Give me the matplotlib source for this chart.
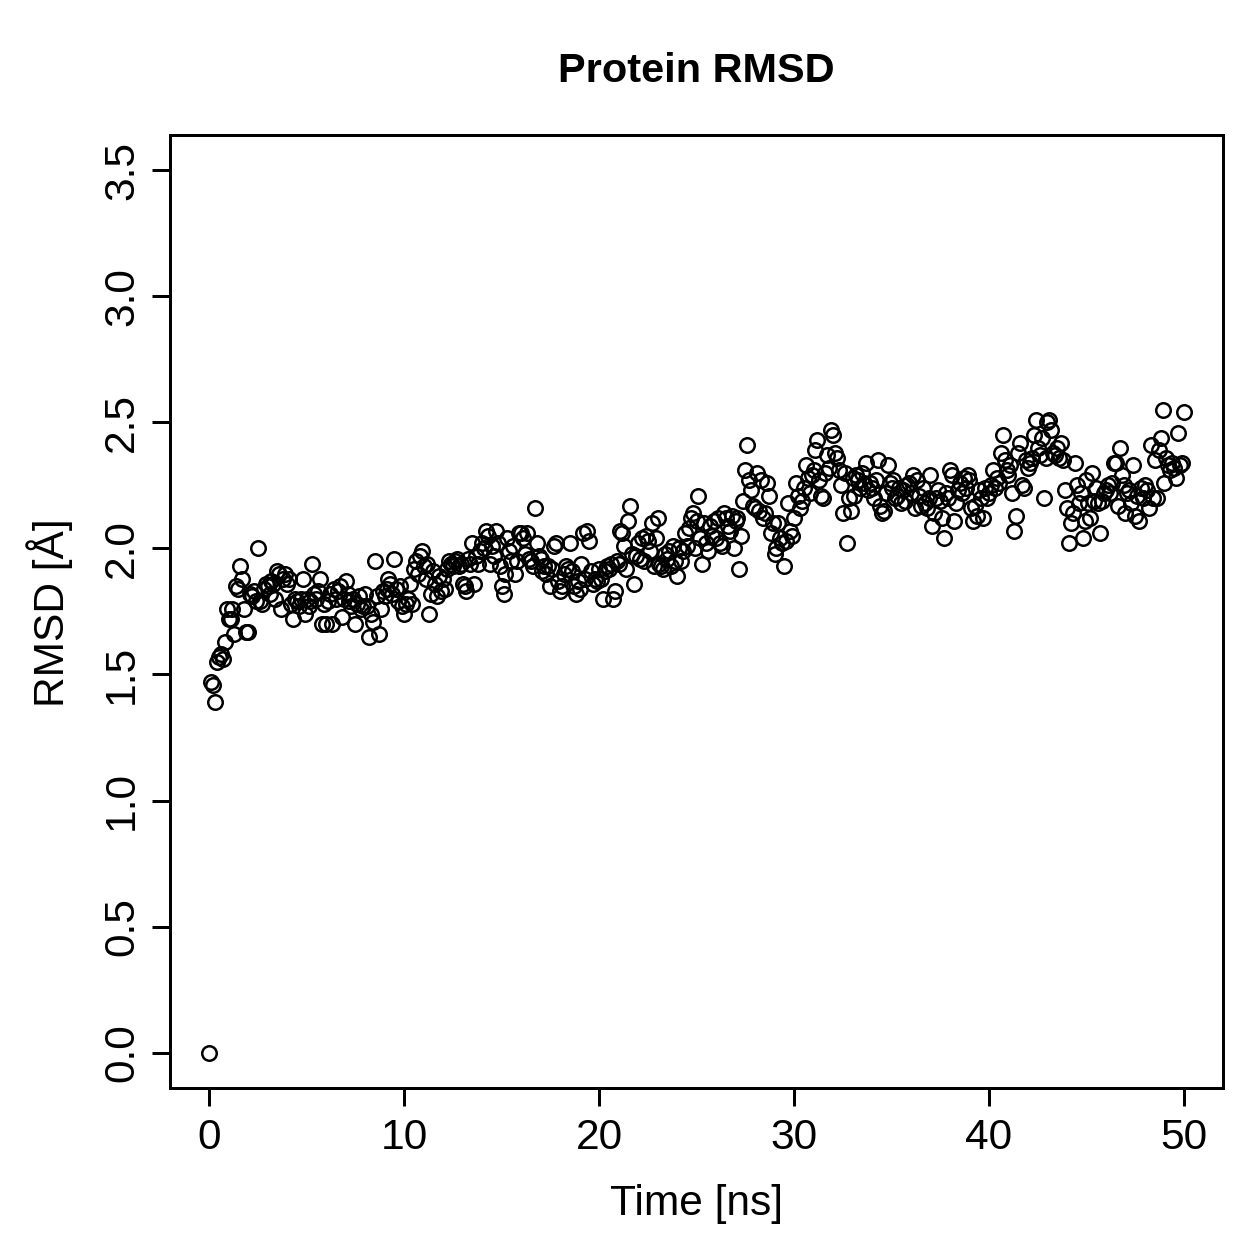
import numpy as np
import matplotlib
matplotlib.use("Agg")
import matplotlib.pyplot as plt

plt.rcParams['font.family'] = ['Liberation Sans', 'DejaVu Sans']

# time in ns, one frame every 0.1 ns
time_ns = np.round(np.arange(0, 501) * 0.1, 1)

# RMSD values, one row per ns
rmsd = [
    0.00, 1.47, 1.46, 1.39, 1.55, 1.57, 1.58, 1.56, 1.63, 1.76,
    1.72, 1.72, 1.76, 1.66, 1.85, 1.84, 1.93, 1.88, 1.76, 1.67,
    1.67, 1.82, 1.81, 1.83, 1.79, 2.00, 1.79, 1.78, 1.84, 1.86,
    1.85, 1.82, 1.87, 1.86, 1.80, 1.91, 1.90, 1.76, 1.88, 1.90,
    1.86, 1.88, 1.78, 1.72, 1.80, 1.79, 1.77, 1.80, 1.88, 1.74,
    1.80, 1.77, 1.79, 1.94, 1.82, 1.80, 1.83, 1.88, 1.70, 1.78,
    1.70, 1.79, 1.82, 1.70, 1.84, 1.80, 1.83, 1.85, 1.73, 1.80,
    1.87, 1.82, 1.79, 1.77, 1.80, 1.70, 1.78, 1.81, 1.76, 1.77,
    1.82, 1.77, 1.65, 1.74, 1.71, 1.95, 1.81, 1.66, 1.76, 1.83,
    1.81, 1.84, 1.88, 1.86, 1.82, 1.96, 1.84, 1.79, 1.85, 1.77,
    1.74, 1.78, 1.80, 1.86, 1.78, 1.92, 1.95, 1.90, 1.97, 1.99,
    1.93, 1.88, 1.94, 1.74, 1.82, 1.91, 1.86, 1.81, 1.89, 1.83,
    1.88, 1.84, 1.92, 1.95, 1.94, 1.93, 1.95, 1.96, 1.93, 1.94,
    1.86, 1.85, 1.83, 1.96, 1.94, 2.02, 1.86, 1.97, 1.94, 1.99,
    2.02, 2.00, 2.07, 2.05, 1.94, 2.01, 1.97, 2.07, 2.02, 1.93,
    1.85, 1.82, 1.90, 2.04, 1.99, 1.95, 2.01, 1.90, 1.95, 2.06,
    2.06, 2.04, 1.98, 2.06, 1.96, 1.95, 1.93, 2.16, 2.02, 1.97,
    1.96, 1.91, 1.93, 1.90, 1.93, 1.85, 1.92, 2.01, 2.02, 1.87,
    1.83, 1.85, 1.90, 1.93, 1.92, 2.02, 1.91, 1.85, 1.82, 1.87,
    1.84, 1.94, 2.06, 1.88, 2.07, 2.03, 1.91, 1.86, 1.88, 1.87,
    1.92, 1.88, 1.80, 1.91, 1.93, 1.92, 1.94, 1.80, 1.83, 1.95,
    1.94, 2.07, 2.06, 2.01, 1.92, 2.11, 2.17, 1.98, 1.86, 1.97,
    2.02, 1.96, 2.04, 1.95, 2.05, 2.03, 1.99, 2.10, 1.93, 2.04,
    2.12, 1.94, 1.93, 1.92, 1.98, 1.96, 1.99, 1.93, 2.01, 1.95,
    1.89, 2.00, 1.95, 1.99, 2.06, 2.01, 2.08, 2.12, 2.14, 2.00,
    2.11, 2.21, 2.04, 1.94, 2.10, 2.02, 1.99, 2.09, 2.05, 2.11,
    2.04, 2.12, 2.02, 2.01, 2.14, 2.12, 2.09, 2.07, 2.13, 2.00,
    2.11, 2.12, 1.92, 2.05, 2.19, 2.31, 2.41, 2.27, 2.23, 2.17,
    2.16, 2.30, 2.15, 2.27, 2.12, 2.14, 2.26, 2.21, 2.06, 2.10,
    1.98, 2.00, 2.10, 2.04, 2.02, 1.93, 2.03, 2.18, 2.07, 2.05,
    2.12, 2.26, 2.21, 2.16, 2.19, 2.24, 2.33, 2.28, 2.22, 2.29,
    2.31, 2.39, 2.43, 2.27, 2.21, 2.20, 2.30, 2.37, 2.32, 2.47,
    2.45, 2.38, 2.36, 2.31, 2.25, 2.14, 2.30, 2.02, 2.20, 2.15,
    2.28, 2.21, 2.29, 2.27, 2.24, 2.30, 2.26, 2.34, 2.23, 2.26,
    2.24, 2.20, 2.27, 2.35, 2.17, 2.14, 2.15, 2.22, 2.33, 2.26,
    2.24, 2.27, 2.20, 2.21, 2.24, 2.18, 2.23, 2.19, 2.25, 2.26,
    2.22, 2.29, 2.16, 2.27, 2.21, 2.17, 2.24, 2.18, 2.16, 2.20,
    2.29, 2.09, 2.14, 2.20, 2.23, 2.19, 2.12, 2.04, 2.22, 2.20,
    2.31, 2.29, 2.11, 2.18, 2.23, 2.26, 2.22, 2.28, 2.24, 2.29,
    2.27, 2.16, 2.11, 2.17, 2.13, 2.23, 2.20, 2.12, 2.24, 2.20,
    2.22, 2.25, 2.31, 2.24, 2.28, 2.26, 2.38, 2.45, 2.35, 2.31,
    2.29, 2.33, 2.22, 2.07, 2.13, 2.38, 2.42, 2.25, 2.24, 2.35,
    2.32, 2.34, 2.36, 2.45, 2.51, 2.40, 2.37, 2.44, 2.20, 2.36,
    2.50, 2.51, 2.47, 2.38, 2.37, 2.40, 2.36, 2.42, 2.35, 2.23,
    2.16, 2.02, 2.10, 2.14, 2.34, 2.25, 2.18, 2.22, 2.04, 2.11,
    2.27, 2.18, 2.12, 2.30, 2.19, 2.24, 2.18, 2.06, 2.19, 2.22,
    2.23, 2.25, 2.22, 2.26, 2.34, 2.34, 2.17, 2.40, 2.29, 2.25,
    2.14, 2.22, 2.23, 2.18, 2.33, 2.13, 2.21, 2.11, 2.24, 2.20,
    2.25, 2.23, 2.16, 2.41, 2.20, 2.35, 2.20, 2.39, 2.44, 2.55,
    2.26, 2.36, 2.33, 2.31, 2.34, 2.32, 2.28, 2.46, 2.33, 2.34,
    2.54,
]

x_ticks = [0, 10, 20, 30, 40, 50]
y_ticks = [0.0, 0.5, 1.0, 1.5, 2.0, 2.5, 3.0, 3.5]

fig = plt.figure(figsize=(7, 7), dpi=180)
ax = fig.add_axes([0.135, 0.1366, 0.8356, 0.7562])

ax.plot(time_ns, rmsd, linestyle='none', marker='o', markersize=5.8,
        markerfacecolor='none', markeredgecolor='black', markeredgewidth=1.0)

# R style: 4% padding around the data range
ax.set_xlim(-2, 52)
ax.set_ylim(-0.14, 3.64)
ax.set_xticks(x_ticks)
ax.set_xticklabels([str(v) for v in x_ticks])
ax.set_yticks(y_ticks)
ax.set_yticklabels([f'{v:.1f}' for v in y_ticks])

for side in ax.spines.values():
    side.set_linewidth(1.2)
ax.tick_params(direction='out', length=7.2, width=1.2, labelsize=17)
ax.tick_params(axis='x', pad=5)
ax.tick_params(axis='y', pad=4)
plt.setp(ax.get_yticklabels(), rotation=90, va='center')

fig.text(0.553, 0.0445, 'Time [ns]', ha='center', va='center', fontsize=17)
fig.text(0.0397, 0.514, 'RMSD [Å]', ha='center', va='center', fontsize=17, rotation=90)
fig.text(0.553, 0.944, 'Protein RMSD', ha='center', va='center', fontsize=16.6, fontweight='bold')

fig.savefig('out.png', dpi=180)
